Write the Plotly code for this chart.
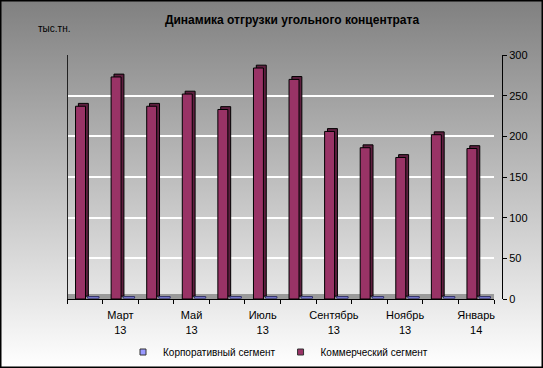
import plotly.graph_objects as go
import urllib.parse

# ---- data ----
months = ["Февраль", "Март", "Апрель", "Май", "Июнь", "Июль",
          "Август", "Сентябрь", "Октябрь", "Ноябрь", "Декабрь", "Январь"]
years = ["13", "13", "13", "13", "13", "13", "13", "13", "13", "13", "13", "14"]
commercial = [237, 273, 237, 252, 233, 284, 270, 206, 186, 174, 202, 185]
corporate = [0, 0, 0, 0, 0, 0, 0, 0, 0, 0, 0, 0]
y_ticks = [0, 50, 100, 150, 200, 250, 300]

title = "Динамика отгрузки угольного концентрата"
unit = "тыс.тн."
names = ["Корпоративный сегмент", "Коммерческий сегмент"]

W, H = 543, 368
L, R, T, B = 67, 41, 55, 69
pw, ph = W - L - R, H - T - B

x = list(range(len(months)))
labels = [f"{m}<br>{y}" for m, y in zip(months, years)]
tickvals = x[1::2]
ticktext = labels[1::2]

COM = "#993366"
COM_SIDE = "#5e1f3f"
CORP = "#9999ff"

fig = go.Figure()

# side/depth face of commercial bars (drawn behind)
fig.add_trace(go.Bar(x=x, y=commercial, base=3.5, width=0.28, offset=-0.18,
                     marker=dict(color=COM_SIDE, line=dict(color="#000", width=1)),
                     showlegend=False, hoverinfo="skip"))
# commercial front face
fig.add_trace(go.Bar(x=x, y=commercial, width=0.28, offset=-0.26, name=names[1],
                     marker=dict(color=COM, line=dict(color="#000", width=1)),
                     showlegend=False))
# corporate slabs (minimum 3D thickness)
fig.add_trace(go.Bar(x=x, y=[v + 2.0 for v in corporate], base=1.0, width=0.32, offset=0.08,
                     name=names[0],
                     marker=dict(color=CORP, line=dict(color="#333366", width=1)),
                     showlegend=False))

# legend entries
for nm, col in zip(names, [CORP, COM]):
    fig.add_trace(go.Scatter(x=[None], y=[None], mode="markers", name=nm,
                             marker=dict(symbol="square", size=6, color=col,
                                         line=dict(color="#333", width=1))))

# background gradient + border
svg = (f'<svg xmlns="http://www.w3.org/2000/svg" width="{W}" height="{H}" '
       f'viewBox="0 0 {W} {H}" preserveAspectRatio="none">'
       '<defs><linearGradient id="g" x1="0" y1="0" x2="0" y2="1">'
       '<stop offset="0" stop-color="#808080"/><stop offset="1" stop-color="#ffffff"/>'
       '</linearGradient></defs>'
       f'<rect x="0" y="0" width="{W}" height="{H}" fill="url(#g)"/>'
       f'<rect x="0.5" y="0.5" width="{W-1}" height="{H-1}" fill="none" stroke="#000" stroke-width="2"/>'
       '</svg>')
src = "data:image/svg+xml;charset=utf-8," + urllib.parse.quote(svg)

fig.update_layout(
    width=W, height=H,
    margin=dict(l=L, r=R, t=T, b=B, pad=0, autoexpand=False),
    paper_bgcolor="#ffffff",
    plot_bgcolor="rgba(0,0,0,0)",
    barmode="overlay",
    font=dict(family="Arial, Liberation Sans, sans-serif", size=11, color="#000"),
    images=[dict(source=src, xref="paper", yref="paper",
                 x=-L / pw, y=(H - B) / ph, sizex=W / pw, sizey=H / ph,
                 xanchor="left", yanchor="top", sizing="stretch", layer="below")],
    title=dict(text=f"<b>{title}</b>", x=292 / W, xanchor="center",
               y=1 - 20 / H, yanchor="middle", xref="container", yref="container",
               font=dict(size=12, color="#000")),
    annotations=[dict(text=unit, xref="paper", yref="paper",
                      x=(36 - L) / pw, y=(H - B - 28) / ph,
                      xanchor="left", yanchor="middle", showarrow=False,
                      font=dict(size=10, color="#000"))],
    legend=dict(orientation="h", xref="container", yref="container",
                x=278 / W, xanchor="center",
                y=1 - 352 / H, yanchor="middle",
                font=dict(size=10, color="#000"), bgcolor="rgba(0,0,0,0)",
                itemwidth=30, tracegroupgap=0),
    xaxis=dict(range=[-0.5, 11.5], domain=[0, 427 / pw],
               tickmode="array", tickvals=tickvals, ticktext=ticktext,
               ticks="outside", ticklen=6, tickcolor="rgba(0,0,0,0)",
               showline=True, linecolor="#000", linewidth=1,
               showgrid=False, zeroline=False, fixedrange=True, automargin=False,
               minor=dict(tickmode="array", tickvals=[i - 0.5 for i in range(13)],
                          ticks="outside", ticklen=4, tickcolor="#000", showgrid=False)),
    yaxis=dict(range=[0, 300], side="right", anchor="free", position=1,
               tickmode="array", tickvals=y_ticks,
               ticks="outside", ticklen=4, tickcolor="#000",
               showline=True, linecolor="#000", linewidth=1,
               showgrid=True, gridcolor="#ffffff", gridwidth=1.5,
               zeroline=False, fixedrange=True, automargin=False),
    shapes=[
        dict(type="rect", xref="x", yref="y", x0=-0.5, x1=11.5, y0=0, y1=6,
             fillcolor="#9a9a9a", line=dict(width=0), layer="below"),
        dict(type="line", xref="x", yref="y", x0=-0.5, x1=-0.5, y0=0, y1=303,
             line=dict(color="#222", width=2), layer="above"),
    ],
)

fig.write_html("out.html", config={"displayModeBar": False},
               post_script="document.body.style.margin='0';document.body.style.padding='0';"
                           "document.body.style.overflow='hidden';")
